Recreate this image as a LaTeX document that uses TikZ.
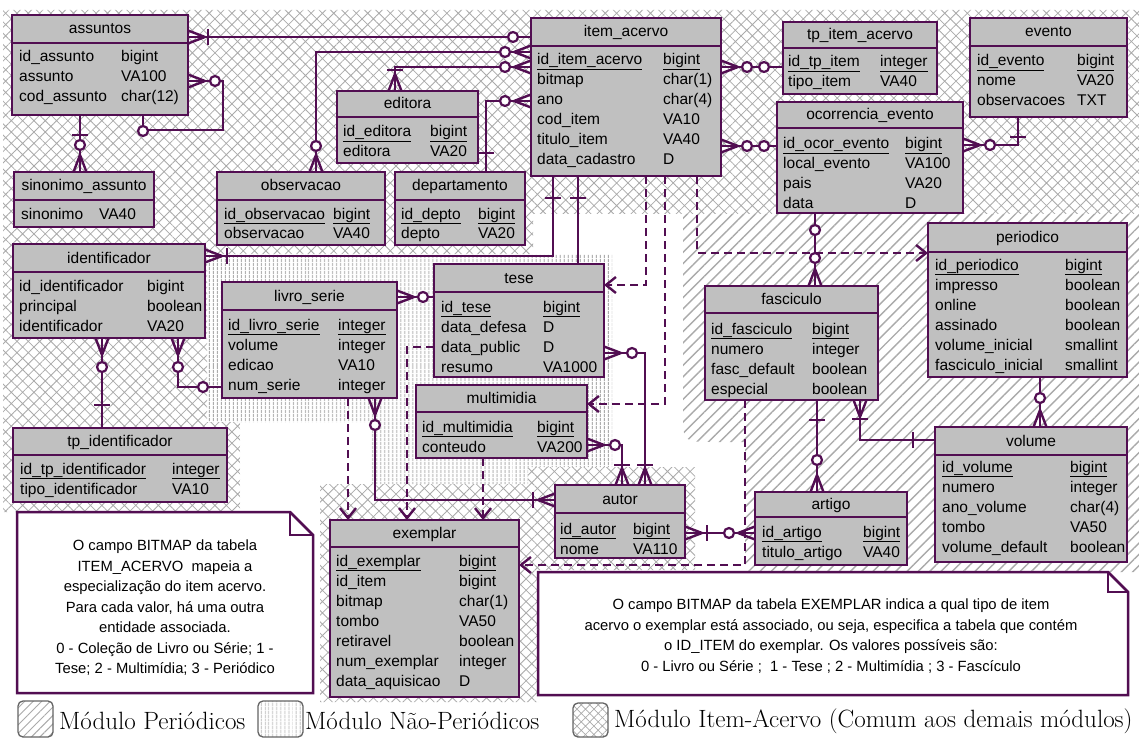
\documentclass[tikz,border=0pt]{standalone}
\usepackage{fontspec}
\setmainfont{Liberation Sans}
\newfontfamily\lmfont{Latin Modern Roman}
\usetikzlibrary{arrows.meta,patterns.meta}
\pgfdeclarelayer{bg}\pgfdeclarelayer{lines}
\pgfsetlayers{bg,lines,main}
\definecolor{ink}{RGB}{82,14,82}
\definecolor{boxgray}{RGB}{192,192,192}
\definecolor{hatchc}{RGB}{170,170,170}
\definecolor{legc}{RGB}{100,100,100}
\tikzset{
 ebox/.style={draw=ink, line width=2.5pt, fill=boxgray, inner sep=0pt, outer sep=0pt},
 hdr/.style={draw=ink, line width=2.2pt},
 etitle/.style={font=\fontsize{15.5}{18}\selectfont, inner sep=0pt, text height=11pt, text depth=3pt},
 attr/.style={font=\fontsize{15.5}{18}\selectfont, anchor=west, inner sep=0pt, text height=11pt, text depth=3pt},
 conn/.style={draw=ink, line width=2.4pt},
 dconn/.style={draw=ink, line width=2.4pt, dash pattern=on 8pt off 5pt, -{Straight Barb[length=10pt,width=16pt]}},
 notebox/.style={draw=ink, line width=2.5pt, fill=white, line join=miter},
 notetext/.style={font=\fontsize{14.8}{20.5}\selectfont, align=center, inner sep=0pt},
 legicon/.style={draw=legc, line width=1.3pt, rounded corners=5pt},
 legtext/.style={font=\lmfont\fontsize{25}{28}\selectfont, anchor=west, inner sep=0pt}
}
\newcommand\entity[7]{%
 \node[ebox, minimum width={#4-#2}, minimum height={#5-#3}] (#1) at ({(#2+#4)/2},{(#3+#5)/2}) {};
 \draw[hdr] (#1.west |- 0,#6) -- (#1.east |- 0,#6);
 \node[etitle] (#1-t) at ({(#2+#4)/2},{(#3+#6)/2+1}) {#7};
}
\newcommand\attrs[6]{%
 \foreach \a/\b [count=\i] in {#6} {%
  \pgfmathsetmacro\yy{#4+20*(\i-1)}%
  \ifnum\numexpr\i*10+#5\relax=11 \def\fmt{\underline}\else\def\fmt{}\fi
  \node[attr] (#1-n\i) at (#2,\yy) {\fmt{\a}};
  \node[attr] (#1-d\i) at (#3,\yy) {\fmt{\b}};
 }}
\newcommand\mkr[3]{\begin{scope}[shift={#1},rotate=#2]#3\end{scope}}
\newcommand\crow{\draw[conn] (0,-6.5) -- (17,0) (0,6.5) -- (17,0);}
\newcommand\cbar[1]{\draw[conn] (#1,-8) -- (#1,8);}
\newcommand\ccirc[1]{\draw[draw=ink, line width=2.2pt, fill=white] (#1,0) circle[radius=5pt];}
\begin{document}
\begin{tikzpicture}[x=1pt,y=-1pt]
\useasboundingbox (0,0) rectangle (1139,743);
\begin{pgfonlayer}{bg}
\fill[white] (0,0) rectangle (1139,743);
\fill[pattern={Hatch[angle=45,distance=8pt,line width=.8pt]},pattern color=hatchc]
 (3,10) -- (1139,10) -- (1139,214) -- (533,214) -- (533,254) -- (207,254) -- (207,422) -- (240,422) -- (240,512) -- (3,512) -- cycle;
\fill[pattern={Hatch[angle=45,distance=8pt,line width=.8pt]},pattern color=hatchc]
 (320,484) -- (528,484) -- (528,467) -- (695,467) -- (695,570) -- (538,570) -- (538,702) -- (320,702) -- cycle;
\fill[pattern={Lines[angle=90,distance=4pt,line width=1pt]},pattern color=hatchc]
 (207,254) -- (612,254) -- (612,467) -- (528,467) -- (528,484) -- (370,484) -- (370,422) -- (207,422) -- cycle;
\fill[pattern={Lines[angle=45,distance=8pt,line width=1.4pt]},pattern color=hatchc]
 (683,214) -- (1139,214) -- (1139,572) -- (745,572) -- (745,442) -- (713,442) .. controls (683,442) .. (683,412) -- cycle;
\end{pgfonlayer}

% entities
\entity{as}{12}{15}{188}{115}{43}{assuntos}
\attrs{as}{19}{121}{58}{0}{id\_assunto/bigint, assunto/VA100, cod\_assunto/char(12)}
\entity{sin}{14}{172}{154}{227}{200}{sinonimo\_assunto}
\attrs{sin}{21}{99}{215}{0}{sinonimo/VA40}
\entity{obs}{217}{172}{385}{245}{200}{observacao}
\attrs{obs}{224}{333}{215}{1}{id\_observacao/bigint, observacao/VA40}
\entity{edi}{337}{91}{478}{163}{117}{editora}
\attrs{edi}{343}{430}{133}{1}{id\_editora/bigint, editora/VA20}
\entity{dep}{395}{172}{525}{245}{200}{departamento}
\attrs{dep}{401}{478}{215}{1}{id\_depto/bigint, depto/VA20}
\entity{item}{531}{18}{721}{176}{46}{item\_acervo}
\attrs{item}{537}{663}{61}{1}{id\_item\_acervo/bigint, bitmap/char(1), ano/char(4), cod\_item/VA10, titulo\_item/VA40, data\_cadastro/D}
\entity{tpi}{783}{22}{937}{94}{48}{tp\_item\_acervo}
\attrs{tpi}{788}{880}{63}{1}{id\_tp\_item/integer, tipo\_item/VA40}
\entity{evt}{970}{18}{1127}{117}{46}{evento}
\attrs{evt}{977}{1077}{62}{1}{id\_evento/bigint, nome/VA20, observacoes/TXT}
\entity{oco}{777}{102}{963}{213}{128}{ocorrencia\_evento}
\attrs{oco}{783}{905}{145}{1}{id\_ocor\_evento/bigint, local\_evento/VA100, pais/VA20, data/D}
\entity{per}{928}{223}{1127}{377}{252}{periodico}
\attrs{per}{935}{1065}{266}{1}{id\_periodico/bigint, impresso/boolean, online/boolean, assinado/boolean, volume\_inicial/smallint, fasciculo\_inicial/smallint}
\entity{fas}{705}{286}{878}{400}{313}{fasciculo}
\attrs{fas}{711}{812}{330}{1}{id\_fasciculo/bigint, numero/integer, fasc\_default/boolean, especial/boolean}
\entity{vol}{935}{427}{1127}{562}{455}{volume}
\attrs{vol}{942}{1070}{468}{1}{id\_volume/bigint, numero/integer, ano\_volume/char(4), tombo/VA50, volume\_default/boolean}
\entity{art}{755}{492}{907}{565}{517}{artigo}
\attrs{art}{762}{863}{533}{1}{id\_artigo/bigint, titulo\_artigo/VA40}
\entity{aut}{555}{485}{685}{558}{513}{autor}
\attrs{aut}{560}{633}{530}{1}{id\_autor/bigint, nome/VA110}
\entity{exe}{330}{520}{519}{697}{547}{exemplar}
\attrs{exe}{336}{459}{562}{1}{id\_exemplar/bigint, id\_item/bigint, bitmap/char(1), tombo/VA50, retiravel/boolean, num\_exemplar/integer, data\_aquisicao/D}
\entity{idf}{13}{244}{205}{338}{272}{identificador}
\attrs{idf}{19}{147}{287}{0}{id\_identificador/bigint, principal/boolean, identificador/VA20}
\entity{liv}{222}{282}{397}{398}{310}{livro\_serie}
\attrs{liv}{228}{338}{326}{1}{id\_livro\_serie/integer, volume/integer, edicao/VA10, num\_serie/integer}
\entity{tpid}{13}{428}{227}{502}{455}{tp\_identificador}
\attrs{tpid}{20}{172}{470}{1}{id\_tp\_identificador/integer, tipo\_identificador/VA10}
\entity{tese}{434}{264}{604}{377}{292}{tese}
\attrs{tese}{441}{543}{308}{1}{id\_tese/bigint, data\_defesa/D, data\_public/D, resumo/VA1000}
\entity{mul}{416}{385}{587}{458}{412}{multimidia}
\attrs{mul}{422}{537}{428}{1}{id\_multimidia/bigint, conteudo/VA200}

% connectors
\begin{pgfonlayer}{lines}
\draw[conn] (as.east |- 0,37) -- (item.west |- 0,37);
\draw[conn] (obs.north -| 316,0) |- (item.west |- 0,52);
\draw[conn] (edi.north -| 395,0) |- (item.west |- 0,67);
\draw[conn] (dep.north -| 486,0) |- (item.west |- 0,101);
\draw[conn] (item.east |- 0,67) -- (tpi.west |- 0,67);
\draw[conn] (item.east |- 0,146) -- (oco.west |- 0,146);
\draw[conn] (oco.east |- 0,145) -| (evt.south -| 1018,0);
\draw[conn] (oco.south -| 815,0) -- (fas.north -| 815,0);
\draw[dconn] (item.south -| 697,0) |- (per.west |- 0,253);
\draw[dconn] (item.south -| 646,0) |- (tese.east |- 0,285);
\draw[dconn] (item.south -| 665,0) |- (mul.east |- 0,404);
\draw[conn] (item.south -| 553,0) |- (idf.east |- 0,256);
\draw[conn] (item.south -| 578,0) -- (tese.north -| 578,0);
\draw[conn] (tese.east |- 0,353) -| (aut.north -| 645,0);
\draw[conn] (mul.east |- 0,445) -| (aut.north -| 622,0);
\draw[conn] (liv.south -| 375,0) |- (aut.west |- 0,500);
\draw[conn] (aut.east |- 0,533) -- (art.west |- 0,533);
\draw[dconn] (fas.south -| 745,0) |- (exe.east |- 0,565);
\draw[dconn] (liv.south -| 348,0) -- (exe.north -| 348,0);
\draw[dconn] (tese.west |- 0,347) -| (exe.north -| 407,0);
\draw[dconn] (mul.south -| 483,0) -- (exe.north -| 483,0);
\draw[conn] (idf.south -| 102,0) -- (tpid.north -| 102,0);
\draw[conn] (idf.south -| 178,0) |- (liv.west |- 0,387);
\draw[conn] (liv.east |- 0,297) -- (tese.west |- 0,297);
\draw[conn] (per.south -| 1040,0) -- (vol.north -| 1040,0);
\draw[conn] (fas.south -| 860,0) |- (vol.west |- 0,440);
\draw[conn] (fas.south -| 817,0) -- (art.north -| 817,0);
\draw[conn] (as.south -| 80,0) -- (sin.north -| 80,0);
\draw[conn] (as.east |- 0,81) -| (223,130) -| (as.south -| 143,0);
\end{pgfonlayer}

% markers
\mkr{(188,37)}{0}{\crow\cbar{20}}
\mkr{(531,37)}{180}{\ccirc{18}}
\mkr{(316,172)}{90}{\crow\ccirc{26}}
\mkr{(531,52)}{180}{\crow\ccirc{26}}
\mkr{(395,91)}{90}{\crow\cbar{21}}
\mkr{(531,67)}{180}{\crow\ccirc{26}}
\mkr{(486,172)}{90}{\cbar{19}}
\mkr{(531,101)}{180}{\crow\ccirc{26}}
\mkr{(721,67)}{0}{\crow\ccirc{26}}
\mkr{(783,67)}{180}{\ccirc{19}}
\mkr{(721,146)}{0}{\crow\ccirc{26}}
\mkr{(777,146)}{180}{\ccirc{13}}
\mkr{(963,145)}{0}{\crow\ccirc{27}}
\mkr{(1018,117)}{-90}{\cbar{20}}
\mkr{(815,213)}{-90}{\ccirc{17}}
\mkr{(815,286)}{90}{\crow\ccirc{28}}
\mkr{(553,176)}{-90}{\cbar{22}}
\mkr{(205,256)}{0}{\crow\cbar{22}}
\mkr{(578,176)}{-90}{\cbar{22}}
\mkr{(604,353)}{0}{\crow\ccirc{28}}
\mkr{(645,485)}{90}{\crow\cbar{20}}
\mkr{(587,445)}{0}{\crow\ccirc{28}}
\mkr{(622,485)}{90}{\crow\cbar{20}}
\mkr{(375,398)}{-90}{\crow\ccirc{27}}
\mkr{(555,500)}{180}{\crow\cbar{22}}
\mkr{(685,533)}{0}{\crow\cbar{22}}
\mkr{(755,533)}{180}{\crow\ccirc{26}}
\mkr{(102,338)}{-90}{\crow\ccirc{29}}
\mkr{(102,428)}{90}{\cbar{23}}
\mkr{(178,338)}{-90}{\crow\ccirc{29}}
\mkr{(222,387)}{180}{\ccirc{19}}
\mkr{(397,297)}{0}{\crow\ccirc{26}}
\mkr{(1040,427)}{90}{\crow\ccirc{29}}
\mkr{(860,400)}{-90}{\crow\cbar{19}}
\mkr{(935,440)}{180}{\cbar{22}}
\mkr{(817,400)}{-90}{\cbar{20}}
\mkr{(817,492)}{90}{\crow\ccirc{32}}
\mkr{(80,115)}{-90}{\cbar{20}}
\mkr{(80,172)}{90}{\crow\ccirc{27}}
\mkr{(188,81)}{0}{\crow\ccirc{27}}
\mkr{(143,115)}{-90}{\ccirc{16}}

% notes
\draw[notebox] (17,512) -- (290,512) -- (313,535) -- (313,693) -- (17,693) -- cycle;
\draw[notebox, fill=none] (290,512) -- (290,535) -- (313,535);
\node[notetext] (note1) at (165,608) {O campo BITMAP da tabela\\ITEM\_ACERVO\ \ mapeia a\\especialização do item acervo.\\Para cada valor, há uma outra\\entidade associada.\\0 - Coleção de Livro ou Série; 1 -\\Tese; 2 - Multimídia; 3 - Periódico};
\draw[notebox] (538,572) -- (1108,572) -- (1128,592) -- (1128,695) -- (538,695) -- cycle;
\draw[notebox, fill=none] (1108,572) -- (1108,592) -- (1128,592);
\node[notetext] (note2) at (831,636) {O campo BITMAP da tabela EXEMPLAR indica a qual tipo de item\\acervo o exemplar está associado, ou seja, especifica a tabela que contém\\o ID\_ITEM do exemplar. Os valores possíveis são:\\0 - Livro ou Série ;\ \ 1 - Tese ; 2 - Multimídia ; 3 - Fascículo};

% legend
\draw[legicon, pattern={Lines[angle=45,distance=6pt,line width=1pt]}, pattern color=hatchc] (18,701) rectangle (53,737);
\node[legtext] (leg1) at (59,721) {Módulo Periódicos};
\draw[legicon, pattern={Lines[angle=90,distance=4pt,line width=.9pt]}, pattern color=hatchc] (258,701) rectangle (303,737);
\node[legtext] (leg2) at (305,721) {Módulo Não-Periódicos};
\draw[legicon, pattern={Hatch[angle=45,distance=6pt,line width=.7pt]}, pattern color=hatchc] (573,703) rectangle (608,737);
\node[legtext] (leg3) at (614,721) {Módulo Item-Acervo (Comum aos demais módulos)};
\end{tikzpicture}
\end{document}
